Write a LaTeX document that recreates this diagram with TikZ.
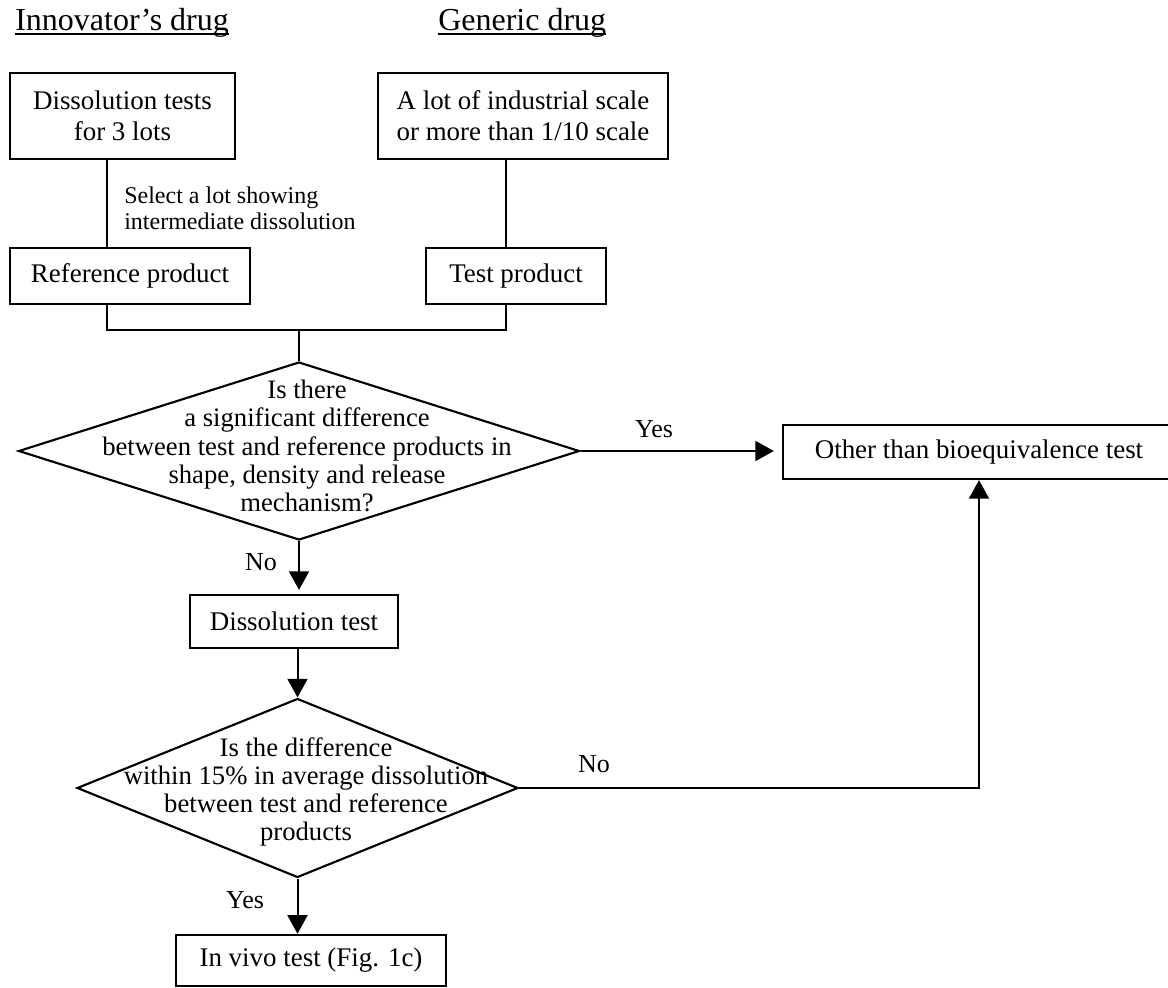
\documentclass[tikz,border=0pt]{standalone}
\usepackage{fontspec}
\setmainfont{Liberation Serif}
\usetikzlibrary{shapes.geometric,arrows.meta}
\begin{document}
\begin{tikzpicture}[x=0.75pt,y=-0.75pt,
  box/.style={draw,line width=1.6pt,rectangle,inner sep=0pt,align=center,
    font=\fontsize{20.2}{23.25}\selectfont},
  dia/.style={draw,line width=1.6pt,diamond,inner sep=0pt},
  diatext/.style={inner sep=0pt,align=center,font=\fontsize{20}{21.2}\selectfont},
  title/.style={inner sep=0pt,anchor=base west,font=\fontsize{24}{28}\selectfont},
  lbl/.style={inner sep=0pt,anchor=base,font=\fontsize{19.5}{23}\selectfont},
  conn/.style={line width=1.5pt},
  arr/.style={line width=1.5pt,-{Triangle[length=14pt,width=15pt]}}]
\useasboundingbox (0,0) rectangle (1168,988);
\clip (0,0) rectangle (1168,988);
\fill[white] (0,0) rectangle (1168,988);

% titles
\node[title] (t1) at (15,31) {Innovator’s drug};
\node[title] (t2) at (438,31) {Generic drug};
\draw[line width=1.4pt] ([yshift=-2.2pt]t1.base west) -- ([yshift=-2.2pt]t1.base east);
\draw[line width=1.4pt] ([yshift=-2.2pt]t2.base west) -- ([yshift=-2.2pt]t2.base east);

% top boxes
\node[box,minimum width=168.75pt,minimum height=64.5pt] (b1) at (122.5,116) {Dissolution tests\\for 3 lots};
\node[box,minimum width=217.5pt,minimum height=64.5pt] (b2) at (523,116) {A lot of industrial scale\\or more than 1/10 scale};
\node[box,minimum width=180pt,minimum height=42pt] (ref) at (130,276) {Reference product};
\node[box,minimum width=135pt,minimum height=42pt] (tp) at (516,276) {Test product};

\node[inner sep=0pt,anchor=north west,align=left,font=\fontsize{18}{19.5}\selectfont] (sel) at (124,187)
  {Select a lot showing\\intermediate dissolution};

\coordinate (xl) at (107,0);
\coordinate (xr) at (506,0);
\coordinate (jy) at (0,330);

\draw[conn] (b1.south -| xl) -- (ref.north -| xl);
\draw[conn] (b2.south -| xr) -- (tp.north -| xr);

% diamond 1
\node[dia,minimum width=420.75pt,minimum height=133.5pt] (d1) at (299,451) {};
\node[diatext] (d1t) at (307,446) {Is there\\a significant difference\\between test and reference products in\\shape, density and release\\mechanism?};

\draw[conn] (ref.south -| xl) -- (jy -| xl) -- (jy -| xr) -- (tp.south -| xr);
\draw[conn] (jy -| d1.north) -- (d1.north);

% other than bioequivalence
\node[box,minimum width=294pt,minimum height=40.5pt] (ob) at (979,452) {Other than bioequivalence test};

% dissolution test
\node[box,minimum width=156pt,minimum height=39.75pt] (dt) at (294,621.5) {Dissolution test};

% diamond 2
\node[dia,minimum width=330.75pt,minimum height=134.25pt] (d2) at (297.5,788) {};
\node[diatext] (d2t) at (306,792) {Is the difference\\within 15\% in average dissolution\\between test and reference\\products};

% in vivo
\node[box,minimum width=202.5pt,minimum height=38.5pt] (iv) at (311,960.5) {In vivo test (Fig. 1c)};

% arrows
\draw[arr,shorten >=6pt] (d1.east) -- (d1.east -| ob.west);
\draw[arr,shorten >=3pt] (d1.south) -- (d1.south |- dt.north);
\draw[arr] (dt.south -| d2.north) -- (d2.north);
\draw[arr] (d2.east) -- (d2.east -| ob.south) -- (ob.south);
\draw[arr] (d2.south) -- (iv.north -| d2.south);

% labels
\node[lbl] (yes1) at (654,437) {Yes};
\node[lbl] (no1) at (261,570) {No};
\node[lbl] (no2) at (594,772) {No};
\node[lbl] (yes2) at (245,908) {Yes};
\end{tikzpicture}
\end{document}
